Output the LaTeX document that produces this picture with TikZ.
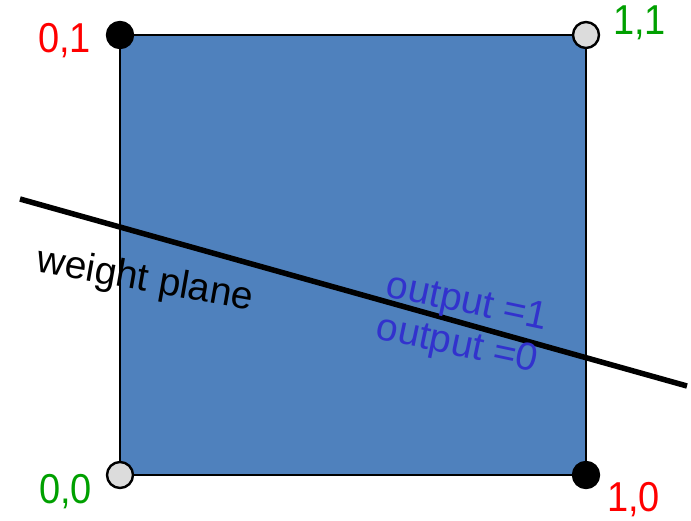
\documentclass[tikz,border=0pt]{standalone}
\usepackage{fontspec}
\setmainfont{Liberation Sans}
\definecolor{squareblue}{RGB}{79,129,189}
\definecolor{offgrey}{RGB}{220,220,220}
\definecolor{labelgreen}{RGB}{0,160,0}
\definecolor{outblue}{RGB}{50,50,205}
\tikzset{
  corner on/.style={circle, draw=black, fill=black, line width=2.4pt, minimum size=26pt, inner sep=0pt},
  corner off/.style={corner on, fill=offgrey},
  corner label/.style={anchor=base west, inner sep=0pt, yscale=1.1, font=\fontsize{38}{40}\selectfont},
  side label/.style={inner sep=0pt, font=\fontsize{39}{41}\selectfont}
}
\begin{document}
\begin{tikzpicture}[x=1pt,y=-1pt]
  \useasboundingbox (0,0) rectangle (691,520);
  % unit square
  \coordinate (c00) at (120,475);
  \coordinate (c10) at (586,475);
  \coordinate (c01) at (120,35);
  \coordinate (c11) at (586,35);
  \draw[fill=squareblue, line width=1.8pt] (c00) rectangle (c11);
  % weight plane
  \coordinate (pl) at (20,199);
  \coordinate (pr) at (687,386);
  \draw[line width=5.5pt] (pl) -- (pr);
  \node[side label, rotate=-10] (wp) at (145,281) {weight plane};
  \node[side label, text=outblue, rotate=-12] (out1) at (467,304) {output =1};
  \node[side label, text=outblue, rotate=-12] (out0) at (457,346) {output =0};
  % corners
  \node[corner off] (p00) at (c00) {};
  \node[corner on] (p10) at (c10) {};
  \node[corner on] (p01) at (c01) {};
  \node[corner off] (p11) at (c11) {};
  \node[corner label, text=labelgreen] (t00) at (39,503) {0,0};
  \node[corner label, text=red] (t10) at (607,511) {1,0};
  \node[corner label, text=red] (t01) at (38,52) {0,1};
  \node[corner label, text=labelgreen] (t11) at (613,34) {1,1};
\end{tikzpicture}
\end{document}
